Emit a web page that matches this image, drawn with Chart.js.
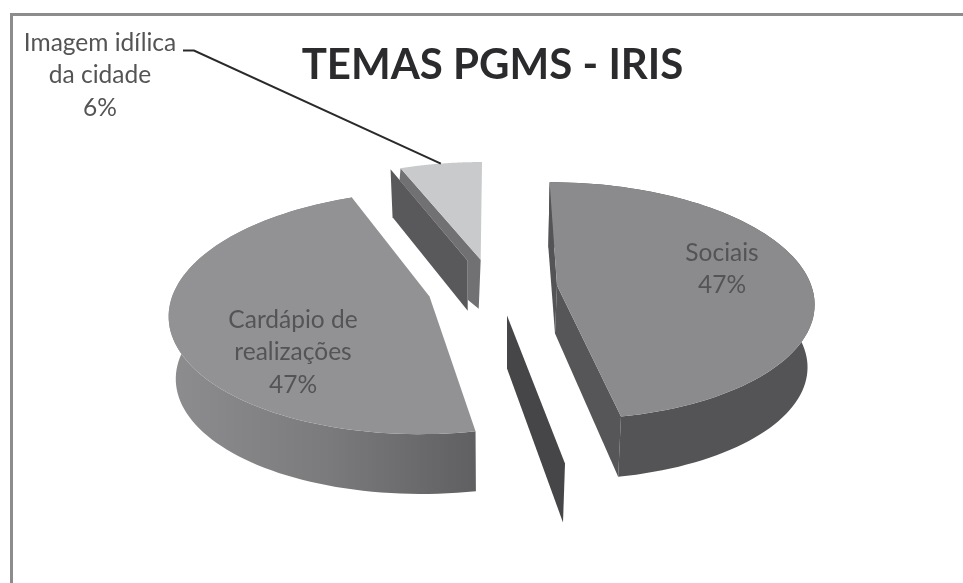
<!DOCTYPE html>
<html>
<head>
<meta charset="utf-8">
<style>
html,body{margin:0;padding:0;background:#fff;overflow:hidden}
#wrap{position:absolute;left:0;top:0;width:963px;height:583px}
</style>
<script src="https://cdn.jsdelivr.net/npm/chart.js@4"></script>
</head>
<body>
<div id="wrap"><canvas id="c" width="963" height="583"></canvas></div>
<script>
const categories = ['Sociais', 'Cardápio de realizações', 'Imagem idílica da cidade'];
const values = [47, 47, 6];
const labelLines = [['Sociais', '47%'], ['Cardápio de', 'realizações', '47%'], ['Imagem idílica', 'da cidade', '6%']];
const titleText = 'TEMAS PGMS - IRIS';
const faceColors = ['#8b8b8e', '#929295', '#c9cacc'];
const explode = [65, 65, 65];

const VIEW = {k: 0.46, p: 0.13, drop: 63, shrink: 0.978};
const LABEL_AT = [[722, 253], [293, 320], [100, 43]];
const LABEL_GAP = 32.5;

function projector(el) {
  const R = el.outerRadius, cx = el.x, cy = el.y;
  const mid = (el.startAngle + el.endAngle) / 2, off = el.options.offset;
  const ox = Math.cos(mid) * off, oy = Math.sin(mid) * off;
  const top = (a, r) => {
    const u = ox + r * Math.cos(a), v = oy + r * Math.sin(a);
    const w = 1 - VIEW.p * v / R;
    return [cx + u / w, cy + VIEW.k * v / w];
  };
  const low = (a, r) => {
    const q = top(a, r);
    return [cx + (q[0] - cx) * VIEW.shrink, cy + (q[1] - cy) * VIEW.shrink + VIEW.drop];
  };
  return {top, low, R};
}
function poly(ctx, pts, fill) {
  ctx.beginPath();
  pts.forEach((q, i) => i ? ctx.lineTo(q[0], q[1]) : ctx.moveTo(q[0], q[1]));
  ctx.closePath();
  ctx.fillStyle = fill;
  ctx.fill();
}
function rim(el, fn, R) {
  const pts = [], n = 90;
  for (let i = 0; i <= n; i++) pts.push(fn(el.startAngle + (el.endAngle - el.startAngle) * i / n, R));
  return pts;
}
const shift = (q, dx, dy) => [q[0] + dx, q[1] + dy];

const pie3d = {
  id: 'pie3d',
  beforeDraw(chart) {
    const ctx = chart.ctx;
    ctx.save();
    ctx.strokeStyle = '#8c8c8c';
    ctx.lineWidth = 3;
    ctx.beginPath();
    ctx.moveTo(11.5, 583);
    ctx.lineTo(11.5, 14.5);
    ctx.lineTo(963, 14.5);
    ctx.stroke();
    ctx.restore();
  },
  beforeDatasetDraw(chart) {
    const ctx = chart.ctx, arcs = chart.getDatasetMeta(0).data;
    const [soc, car, img] = arcs;
    ctx.save();

    // Small slice: two stacked side walls, then its face
    {
      const P = projector(img), R = P.R;
      const E1 = P.top(img.startAngle, R), A = P.top(img.startAngle, 0);
      poly(ctx, [shift(E1, -10, 1), shift(E1, -8, 49), shift(A, -13, 51), shift(A, -13, 1)], '#59595b');
      poly(ctx, [E1, A, shift(A, -2, 49), shift(A, -13, 40), shift(A, -13, 1), shift(E1, -1, 12)], '#717173');
      poly(ctx, rim(img, P.top, R).concat([A]), faceColors[2]);
    }

    // Right slice
    {
      const P = projector(soc), R = P.R;
      const A = P.top(soc.startAngle, 0), E = P.top(soc.endAngle, R);
      const sliver = [shift(A, -50, 30), shift(E, -56, 47), shift(E, -58, 106), shift(A, -50, 83)];
      poly(ctx, sliver, '#464648');
      const wall = rim(soc, P.top, R).concat(rim(soc, P.low, R).reverse());
      poly(ctx, wall, '#545456');
      const lowApex = shift(A, -2, 48);
      poly(ctx, [P.top(soc.startAngle, R), P.low(soc.startAngle, R), lowApex, A], '#545456');
      poly(ctx, [A, E, P.low(soc.endAngle, R), lowApex], '#565658');
      poly(ctx, rim(soc, P.top, R).concat([A]), faceColors[0]);
    }

    // Left slice
    {
      const P = projector(car), R = P.R;
      const g = ctx.createLinearGradient(170, 0, 480, 0);
      g.addColorStop(0, '#8d8d8f');
      g.addColorStop(0.5, '#7b7b7d');
      g.addColorStop(1, '#5f5f61');
      poly(ctx, rim(car, P.top, R).concat(rim(car, P.low, R).reverse()), g);
      poly(ctx, rim(car, P.top, R).concat([P.top(car.startAngle, 0)]), faceColors[1]);
    }

    // Leader line
    {
      const P = projector(img);
      const m = (img.startAngle + img.endAngle) / 2;
      const tip = P.top(m, P.R);
      ctx.strokeStyle = '#2a2a2c';
      ctx.lineWidth = 2;
      ctx.beginPath();
      ctx.moveTo(183, 50.5);
      ctx.lineTo(194, 50.5);
      ctx.lineTo(tip[0], tip[1]);
      ctx.stroke();
    }

    // Labels
    ctx.font = '24.5px Lato';
    ctx.textAlign = 'center';
    ctx.textBaseline = 'middle';
    ctx.fillStyle = '#545456';
    labelLines.forEach((lines, i) => {
      lines.forEach((t, j) => ctx.fillText(t, LABEL_AT[i][0], LABEL_AT[i][1] + j * LABEL_GAP));
    });
    ctx.restore();
    return false;
  }
};

new Chart(document.getElementById('c'), {
  type: 'pie',
  data: {
    labels: categories,
    datasets: [{data: values, backgroundColor: faceColors, offset: explode, borderWidth: 0}]
  },
  options: {
    responsive: false,
    animation: false,
    radius: 255,
    layout: {padding: {left: 22, bottom: 97}},
    plugins: {
      legend: {display: false},
      tooltip: {enabled: false},
      title: {
        display: true,
        text: titleText,
        color: '#2b2b2d',
        font: {family: 'Lato', size: 42, weight: 'bold'},
        padding: {top: 40, bottom: 0}
      }
    }
  },
  plugins: [pie3d]
});
</script>
</body>
</html>
